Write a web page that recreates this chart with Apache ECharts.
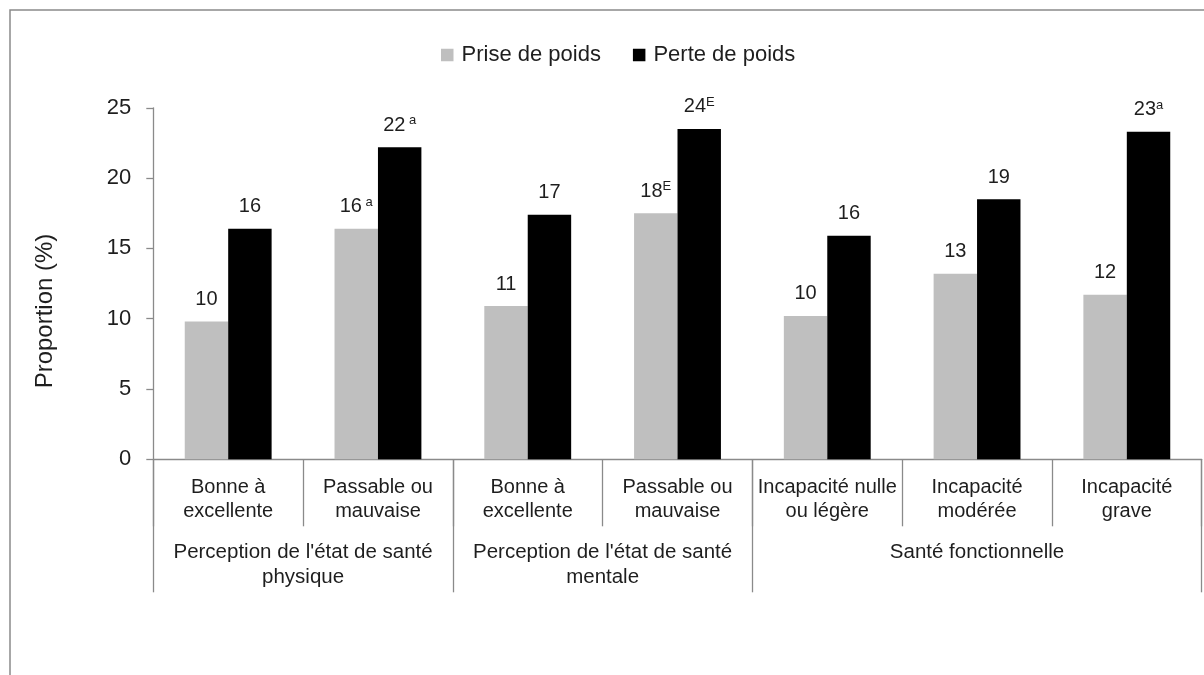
<!DOCTYPE html>
<html>
<head>
<meta charset="utf-8">
<script src="https://cdn.jsdelivr.net/npm/echarts@6/dist/echarts.min.js"></script>
<style>
html,body{margin:0;padding:0;background:#fff;}
#chart{width:1204px;height:675px;}
</style>
</head>
<body>
<div id="chart"></div>
<script>
// ---- data ----
const categories = ['Bonne à\nexcellente', 'Passable ou\nmauvaise', 'Bonne à\nexcellente', 'Passable ou\nmauvaise', 'Incapacité nulle\nou légère', 'Incapacité\nmodérée', 'Incapacité\ngrave'];
const groups = ["Perception de l'état de santé\nphysique", "Perception de l'état de santé\nmentale", 'Santé fonctionnelle'];
const groupSizes = [2, 2, 3];
const seriesNames = ['Prise de poids', 'Perte de poids'];
const weightGain = [9.8, 16.4, 10.9, 17.5, 10.2, 13.2, 11.7];
const weightLoss = [16.4, 22.2, 17.4, 23.5, 15.9, 18.5, 23.3];
const gainNotes = ['', ' a', '', 'E', '', '', ''];
const lossNotes = ['', ' a', '', 'E', '', '', 'a'];
const yMin = 0, yMax = 25, yStep = 5;
const yTitle = 'Proportion (%)';

// ---- build group axis (half-category slots) ----
const nSlots = categories.length * 2 + 1;
const slotIds = [];
const slotLabels = [];
for (let i = 0; i < nSlots; i++) { slotIds.push('s' + i); slotLabels.push(''); }
const groupBounds = new Set([0]);
let acc = 0;
groups.forEach((g, i) => {
  const start = acc * 2;
  acc += groupSizes[i];
  const end = acc * 2;
  groupBounds.add(end);
  slotLabels[(start + end) / 2] = g;
});

const FONT = 'Liberation Sans';
const TXT = '#1e1e1e';
const AX = '#8a8a8a';

function labelFmt(notes) {
  return function (p) {
    return '{v|' + Math.round(p.value) + '}' + (notes[p.dataIndex] ? '{s|' + notes[p.dataIndex] + '}' : '');
  };
}
const richStyle = {
  v: { fontSize: 20, lineHeight: 22, color: TXT, fontFamily: FONT },
  s: { fontSize: 13, lineHeight: 13, color: TXT, fontFamily: FONT, verticalAlign: 'top' }
};

const chart = echarts.init(document.getElementById('chart'));
chart.setOption({
  animation: false,
  backgroundColor: '#fff',
  textStyle: { fontFamily: FONT },
  graphic: [{
    type: 'rect', silent: true,
    shape: { x: 10, y: 10, width: 1250, height: 720 },
    style: { fill: null, stroke: AX, lineWidth: 1.5 }
  }, {
    type: 'text', silent: true,
    x: 45, y: 311, rotation: Math.PI / 2,
    style: { text: yTitle, fontSize: 24, fill: TXT, fontFamily: FONT, align: 'center', verticalAlign: 'middle' }
  }],
  legend: {
    left: 436, top: 39,
    icon: 'rect', itemWidth: 12.5, itemHeight: 12.5, itemGap: 32,
    textStyle: { fontSize: 22, color: TXT, fontFamily: FONT, padding: [0, 0, 0, 3] },
    data: seriesNames
  },
  grid: { left: 153.3, right: 2.3, top: 107.8, bottom: 215.7 },
  xAxis: [{
    type: 'category',
    data: categories,
    axisLine: { show: true, lineStyle: { color: AX, width: 1.3 } },
    axisTick: { show: true, interval: 0, length: 67, lineStyle: { color: AX, width: 1.3 } },
    axisLabel: { interval: 0, margin: 16, fontSize: 20, lineHeight: 24, color: TXT, fontFamily: FONT }
  }, {
    type: 'category',
    data: slotIds,
    boundaryGap: false,
    position: 'bottom',
    axisLine: { show: false },
    axisTick: { show: true, length: 133, interval: (i) => groupBounds.has(i), lineStyle: { color: AX, width: 1.3 } },
    axisLabel: { margin: 81, interval: (i) => slotLabels[i] !== '', formatter: (v, i) => slotLabels[i], fontSize: 20.5, lineHeight: 25, color: TXT, fontFamily: FONT }
  }],
  yAxis: {
    type: 'value', min: yMin, max: yMax, interval: yStep,
    axisLine: { show: true, lineStyle: { color: AX, width: 1.3 } },
    axisTick: { show: true, length: 7, lineStyle: { color: AX, width: 1.3 } },
    axisLabel: { margin: 22, fontSize: 22, color: TXT, fontFamily: FONT },
    splitLine: { show: false }
  },
  series: [{
    name: seriesNames[0], type: 'bar', data: weightGain,
    barGap: '0%', barCategoryGap: '42%',
    itemStyle: { color: '#bfbfbf' },
    label: { show: true, position: 'top', distance: 11, formatter: labelFmt(gainNotes), rich: richStyle }
  }, {
    name: seriesNames[1], type: 'bar', data: weightLoss,
    barGap: '0%', barCategoryGap: '42%',
    itemStyle: { color: '#000000' },
    label: { show: true, position: 'top', distance: 11, formatter: labelFmt(lossNotes), rich: richStyle }
  }]
});
</script>
</body>
</html>
